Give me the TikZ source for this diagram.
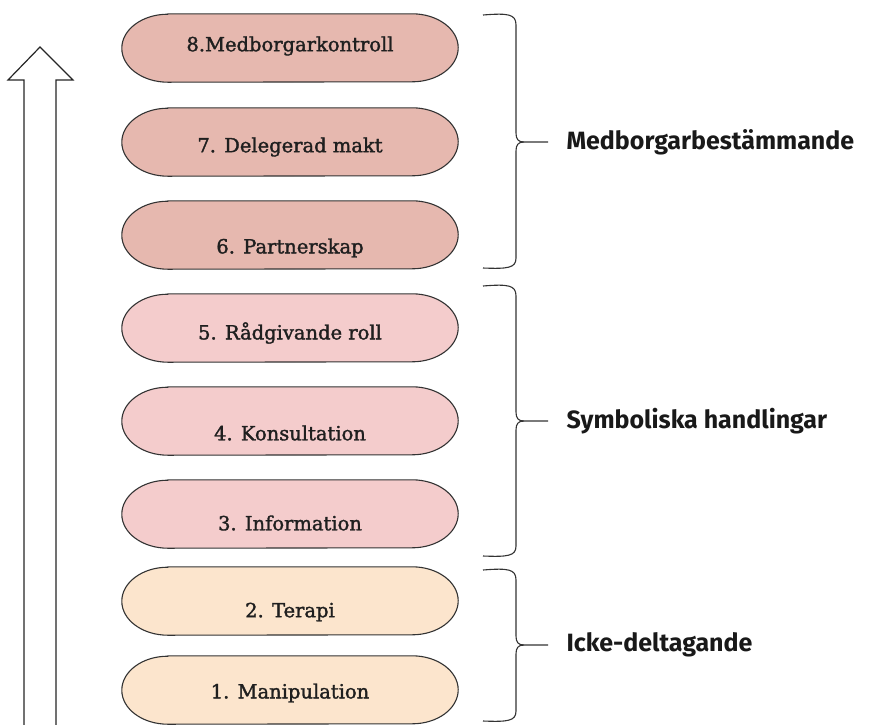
\documentclass[tikz,border=0pt]{standalone}
\usepackage{fontspec}
\setmainfont{DejaVu Serif}[FakeBold=1.6]
\newfontfamily\labelfont{Fira Sans}
\usetikzlibrary{calc}
\definecolor{berry}{HTML}{E6B8AF}
\definecolor{rosy}{HTML}{F4CCCC}
\definecolor{peach}{HTML}{FCE5CD}
\definecolor{edge}{HTML}{333333}
\tikzset{
  pillbox/.style={minimum width=336pt, minimum height=68pt, inner sep=0pt},
  pilledge/.style={draw=edge, line width=1.1pt},
  pilltext/.style={font=\fontsize{19.5}{23}\selectfont, text=black!88},
  grouplabel/.style={anchor=west, font=\labelfont\bfseries\fontsize{25}{30}\selectfont, text=black!90},
  bracepath/.style={draw=black!80, line width=1.1pt},
  uparrow/.style={draw=black!85, line width=1.2pt, fill=white}
}
\newcommand{\mypill}[3]{%
  \node[pillbox] (#1) at (290,#2) {};
  \path[pilledge, fill=#3] ($(#1.north west)+(46,0)$) -- ($(#1.north east)+(-46,0)$)
    arc[x radius=46, y radius=34, start angle=-90, end angle=90]
    -- ($(#1.south west)+(46,0)$)
    arc[x radius=46, y radius=34, start angle=90, end angle=270] -- cycle;
}
\begin{document}
\begin{tikzpicture}[x=1pt,y=-1pt]
\useasboundingbox (0,0) rectangle (873,724);
% up arrow
\draw[uparrow] (24,730) -- (24,80) -- (8,80) -- (40,47) -- (73,80) -- (56,80) -- (56,730);
% pills
\mypill{p8}{48}{berry}
\mypill{p7}{142}{berry}
\mypill{p6}{235}{berry}
\mypill{p5}{328}{rosy}
\mypill{p4}{421}{rosy}
\mypill{p3}{514}{rosy}
\mypill{p2}{601}{peach}
\mypill{p1}{690}{peach}
\node[pilltext] (t8) at ($(p8.center)+(0,-2)$) {8.Medborgarkontroll};
\node[pilltext] (t7) at ($(p7.center)+(0,5)$) {7. Delegerad makt};
\node[pilltext] (t6) at ($(p6.center)+(0,13)$) {6. Partnerskap};
\node[pilltext] (t5) at ($(p5.center)+(0,5)$) {5. Rådgivande roll};
\node[pilltext] (t4) at ($(p4.center)+(0,12)$) {4. Konsultation};
\node[pilltext] (t3) at ($(p3.center)+(0,9)$) {3. Information};
\node[pilltext] (t2) at ($(p2.center)+(0,11)$) {2. Terapi};
\node[pilltext] (t1) at ($(p1.center)+(0,3)$) {1. Manipulation};
% braces
\draw[bracepath] (483,15) .. controls (508,13) and (516,14) .. (516,25) -- (516,133)
  .. controls (516,139) and (518,142) .. (524,142) -- (548,142);
\draw[bracepath] (524,142) .. controls (518,142) and (516,145) .. (516,151) -- (516,258)
  .. controls (516,268) and (508,269) .. (483,268);
\draw[bracepath] (483,286) .. controls (508,284) and (516,285) .. (516,296) -- (516,412)
  .. controls (516,418) and (518,421) .. (524,421) -- (548,421);
\draw[bracepath] (524,421) .. controls (518,421) and (516,424) .. (516,430) -- (516,546)
  .. controls (516,556) and (508,557) .. (483,556);
\draw[bracepath] (483,570) .. controls (508,568) and (516,569) .. (516,580) -- (516,636)
  .. controls (516,642) and (518,645) .. (524,645) -- (548,645);
\draw[bracepath] (524,645) .. controls (518,645) and (516,648) .. (516,654) -- (516,711)
  .. controls (516,721) and (508,722) .. (483,721);
% labels
\node[grouplabel] (g1) at (563,142) {Medborgarbestämmande};
\node[grouplabel] (g2) at (563,421) {Symboliska handlingar};
\node[grouplabel] (g3) at (563,645) {Icke-deltagande};
\end{tikzpicture}
\end{document}
